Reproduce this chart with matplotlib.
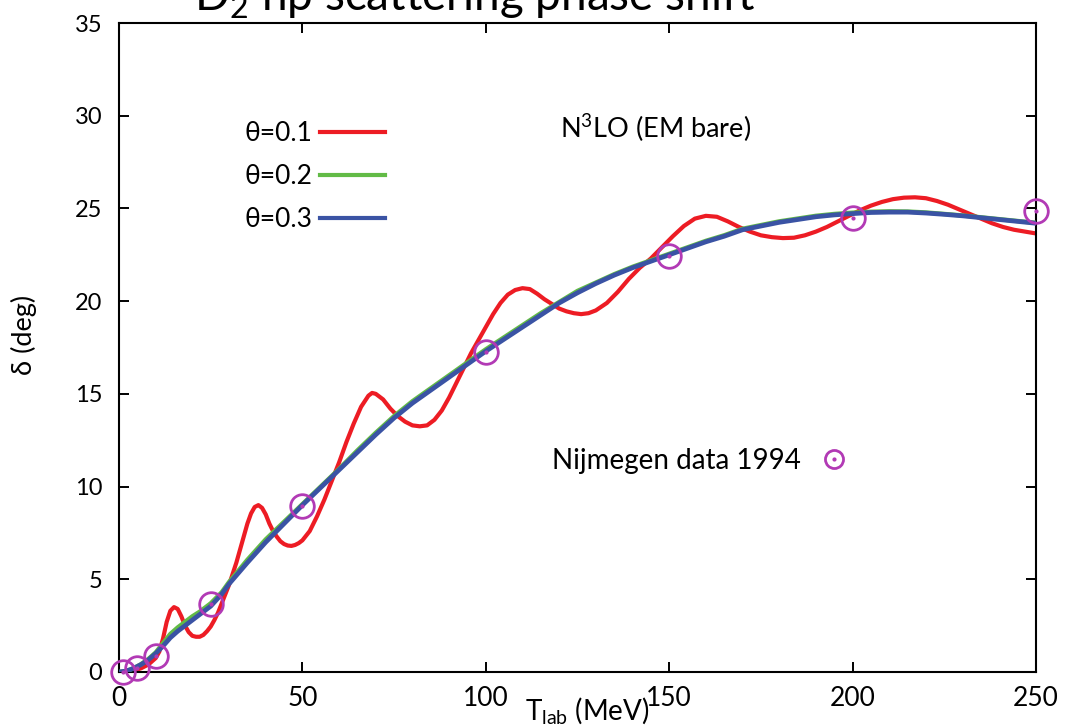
import matplotlib
matplotlib.use("Agg")
import matplotlib.pyplot as plt
from matplotlib.lines import Line2D
from matplotlib.legend_handler import HandlerTuple

plt.rcParams["font.family"] = ["Lato", "DejaVu Sans"]
plt.rcParams["mathtext.fontset"] = "custom"
plt.rcParams["mathtext.rm"] = "Lato"
plt.rcParams["mathtext.it"] = "Lato:italic"

# ---------------------------------------------------------------------------
# Data
# ---------------------------------------------------------------------------
# theta = 0.1 curve (oscillating)
t_red = [0, 2, 4, 6, 8, 10, 11, 12, 13, 14, 15, 16, 17, 18, 19, 20, 21, 22, 23, 24,
         25, 26, 27, 28, 29, 30, 31, 32, 33, 34, 35, 36, 37, 38, 39, 40, 41, 42, 43,
         44, 45, 46, 47, 48, 49, 50, 52, 54, 56, 58, 60, 62, 64, 66, 68, 69, 70, 72,
         74, 76, 78, 80, 82, 84, 86, 88, 90, 92, 94, 96, 98, 100, 102, 104, 106, 108,
         110, 112, 114, 116, 118, 120, 122, 124, 126, 128, 130, 133, 136, 139, 142,
         145, 148, 151, 154, 157, 160, 163, 166, 169, 172, 175, 178, 181, 184, 187,
         190, 193, 196, 199, 202, 205, 208, 211, 214, 217, 220, 223, 226, 229, 232,
         235, 238, 241, 244, 247, 250]
d_red = [0.0, 0.02, 0.08, 0.2, 0.4, 0.75, 1.1, 1.8, 2.7, 3.3, 3.5, 3.4, 3.0, 2.5, 2.15,
         1.95, 1.9, 1.9, 2.0, 2.2, 2.45, 2.8, 3.2, 3.7, 4.2, 4.7, 5.3, 5.9, 6.6, 7.3,
         8.0, 8.55, 8.9, 9.0, 8.85, 8.5, 8.0, 7.6, 7.3, 7.05, 6.9, 6.82, 6.8, 6.85, 6.95,
         7.1, 7.6, 8.4, 9.3, 10.3, 11.3, 12.4, 13.4, 14.3, 14.9, 15.05, 15.0, 14.7, 14.2,
         13.8, 13.5, 13.3, 13.25, 13.3, 13.6, 14.1, 14.8, 15.6, 16.4, 17.2, 17.9, 18.6,
         19.3, 19.9, 20.35, 20.6, 20.7, 20.65, 20.4, 20.1, 19.85, 19.6, 19.45, 19.35,
         19.3, 19.35, 19.5, 19.9, 20.5, 21.2, 21.8, 22.3, 22.9, 23.5, 24.05, 24.45,
         24.6, 24.55, 24.3, 24.0, 23.75, 23.55, 23.45, 23.4, 23.42, 23.55, 23.75, 24.0,
         24.3, 24.6, 24.9, 25.15, 25.35, 25.5, 25.58, 25.6, 25.55, 25.4, 25.2, 24.95,
         24.7, 24.45, 24.2, 24.0, 23.85, 23.75, 23.65]

# theta = 0.2 and theta = 0.3 curves (smooth)
t_smooth = [0, 2, 4, 6, 8, 10, 12, 14, 16, 18, 20, 22, 25, 28, 30, 35, 40, 45, 50, 55,
            60, 65, 70, 75, 80, 85, 90, 95, 100, 105, 110, 115, 120, 125, 130, 135, 140,
            145, 150, 155, 160, 165, 170, 175, 180, 185, 190, 195, 200, 205, 210, 215,
            220, 225, 230, 235, 240, 245, 250]
d_green = [0.0, 0.05, 0.2, 0.42, 0.7, 1.05, 1.55, 2.05, 2.4, 2.7, 3.0, 3.25, 3.7, 4.3,
           4.85, 6.05, 7.15, 8.1, 9.05, 10.0, 10.95, 11.95, 12.9, 13.8, 14.6, 15.3, 16.0,
           16.7, 17.4, 18.05, 18.7, 19.35, 19.95, 20.55, 21.0, 21.45, 21.85, 22.2, 22.55,
           22.9, 23.25, 23.55, 23.9, 24.1, 24.3, 24.45, 24.6, 24.7, 24.77, 24.82, 24.84,
           24.83, 24.78, 24.7, 24.62, 24.52, 24.42, 24.32, 24.22]
d_blue = [0.0, 0.05, 0.2, 0.4, 0.65, 1.0, 1.4, 1.85, 2.2, 2.5, 2.8, 3.1, 3.55, 4.2,
          4.75, 5.9, 7.0, 8.0, 9.0, 9.95, 10.9, 11.85, 12.8, 13.7, 14.5, 15.2, 15.9,
          16.6, 17.3, 17.95, 18.6, 19.25, 19.9, 20.45, 20.95, 21.4, 21.8, 22.15, 22.5,
          22.85, 23.2, 23.5, 23.85, 24.05, 24.25, 24.4, 24.55, 24.65, 24.72, 24.78, 24.8,
          24.8, 24.75, 24.68, 24.6, 24.5, 24.4, 24.3, 24.2]

# Nijmegen 1994 partial-wave analysis
t_nij = [1, 5, 10, 25, 50, 100, 150, 200, 250]
d_nij = [0.0, 0.22, 0.85, 3.67, 8.95, 17.27, 22.44, 24.49, 24.86]

RED = "#ED1C24"
GREEN = "#62BB46"
BLUE = "#3A53A4"
PURPLE = "#B23AB5"

# ---------------------------------------------------------------------------
# Plot
# ---------------------------------------------------------------------------
W, H = 1074, 726
fig = plt.figure(figsize=(W / 100, H / 100), dpi=100)
ax = fig.add_axes([119 / W, 54 / H, (1036 - 119) / W, (672 - 23) / H])

ax.plot(t_red, d_red, color=RED, lw=3.0, solid_capstyle="round", zorder=2)
ax.plot(t_smooth, d_green, color=GREEN, lw=3.2, zorder=3)
ax.plot(t_smooth, d_blue, color=BLUE, lw=3.4, zorder=4)
ax.plot(t_nij, d_nij, ls="none", marker="o", ms=17, mfc="none", mec=PURPLE,
        mew=2.0, zorder=5, clip_on=False)
ax.plot(t_nij, d_nij, ls="none", marker="o", ms=2, color=PURPLE, zorder=6,
        clip_on=False)

ax.set_xlim(0, 250)
ax.set_ylim(0, 35)
ax.set_xticks([0, 50, 100, 150, 200, 250])
ax.set_yticks([0, 5, 10, 15, 20, 25, 30, 35])
ax.tick_params(direction="in", length=7, width=1.4, top=True, right=True)
ax.tick_params(axis="x", labelsize=19, pad=10)
ax.tick_params(axis="y", labelsize=17, pad=12)
for sp in ax.spines.values():
    sp.set_linewidth(1.5)

ax.set_ylabel("δ (deg)", fontsize=19.5)
ax.yaxis.set_label_coords(-0.089, 0.52)
ax.set_xlabel(r"T$_{\rm lab}$ (MeV)", fontsize=20)
ax.xaxis.set_label_coords(0.511, -0.035)

# theta key
theta_handles = [Line2D([], [], color=RED, lw=3),
                 Line2D([], [], color=GREEN, lw=3),
                 Line2D([], [], color=BLUE, lw=3)]
leg1 = ax.legend(theta_handles, ["θ=0.1", "θ=0.2", "θ=0.3"], markerfirst=False,
                 frameon=False, fontsize=19, loc="upper left",
                 bbox_to_anchor=(244 / W, 1 - 121 / H), bbox_transform=fig.transFigure,
                 handlelength=2.46, handletextpad=0.3, labelspacing=0.69,
                 borderpad=0, borderaxespad=0)
ax.add_artist(leg1)

nij_ring = Line2D([], [], ls="none", marker="o", ms=13, mfc="none", mec=PURPLE, mew=2)
nij_dot = Line2D([], [], ls="none", marker="o", ms=2, color=PURPLE)
ax.legend([(nij_ring, nij_dot)], ["Nijmegen data 1994"], markerfirst=False,
          frameon=False, fontsize=20, loc="center right",
          handler_map={tuple: HandlerTuple(ndivide=1)},
          bbox_to_anchor=(851 / W, 1 - 461 / H), bbox_transform=fig.transFigure,
          handlelength=1.2, handletextpad=0.6, borderpad=0, borderaxespad=0)

fig.text(560 / W, 1 - 128 / H, r"N$^3$LO (EM bare)", fontsize=19.5, va="center",
         ha="left")

# title, cut off at the top edge as in the source
fig.text(465 / W, 1 - 11 / H, r"$^3$D$_2$ np scattering phase shift", fontsize=33,
         ha="center", va="baseline")

fig.savefig("out.png", dpi=100)
